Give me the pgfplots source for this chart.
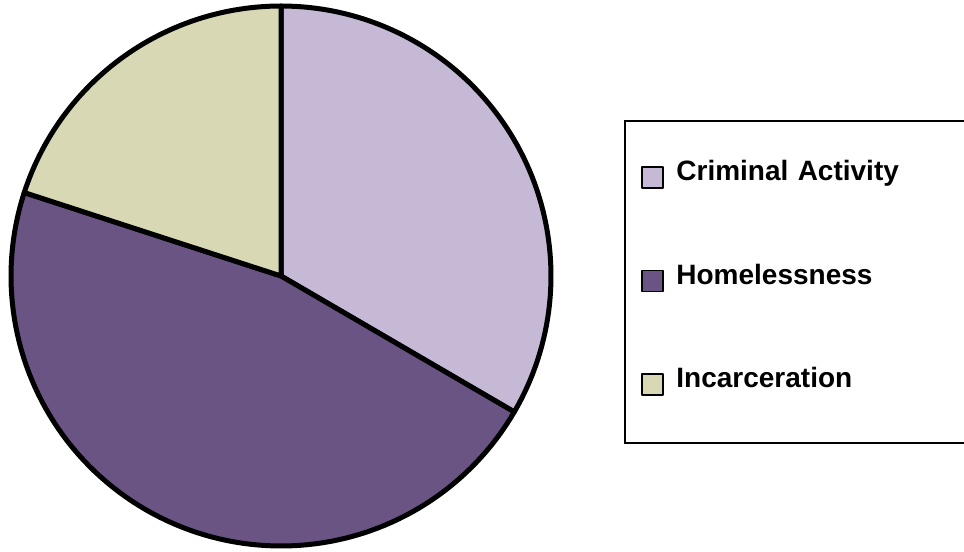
\documentclass[border=0pt]{standalone}
\usepackage{fontspec}
\setmainfont{Liberation Sans}
\usepackage{pgfplots}
\usepackage{pgfplotstable}
\pgfplotsset{compat=1.18}
\definecolor{crimcol}{HTML}{C6B9D6}
\definecolor{homecol}{HTML}{6A5484}
\definecolor{inccol}{HTML}{D8D9B4}
\pgfplotstableread{
label value
Criminal 33.4
Homeless 46.6
Incarc 20.0
}\piedata
\pgfplotstablegetelem{0}{value}\of\piedata\let\va\pgfplotsretval
\pgfplotstablegetelem{1}{value}\of\piedata\let\vb\pgfplotsretval
\pgfplotstablegetelem{2}{value}\of\piedata\let\vc\pgfplotsretval
\pgfmathsetmacro\aA{90}
\pgfmathsetmacro\aB{\aA-3.6*\va}
\pgfmathsetmacro\aC{\aB-3.6*\vb}
\pgfmathsetmacro\aD{\aC-3.6*\vc}
\begin{document}%
\begin{tikzpicture}
\begin{axis}[
  scale only axis, width=540bp, height=540bp,
  xmin=-1, xmax=1, ymin=-1, ymax=1,
  hide axis, clip=false,
  at={(11bp,6bp)}, anchor=south west,
  legend cell align=left,
  legend image code/.code={\draw[#1, line width=1.8bp] (0bp,-7bp) rectangle (21bp,14bp); \path (32bp,0bp);},
  legend style={
    at={(1.1352,0.7889)}, anchor=north west,
    draw=black, line width=2bp,
    inner xsep=16bp, inner ysep=40bp,
    row sep=68.5bp,
    cells={anchor=base west},
    nodes={inner sep=0pt, text height=20bp, text depth=15bp, text width=280bp, align=left,
           font=\fontsize{28bp}{32bp}\selectfont\bfseries},
  },
]
\addplot[fill=crimcol, draw=black, line width=5bp, line join=round, domain=\aA:\aB, samples=80, variable=\t]
  ({cos(t)},{sin(t)}) -- (axis cs:0,0) -- cycle;
\addlegendentry{Criminal Activity}
\addplot[fill=homecol, draw=black, line width=5bp, line join=round, domain=\aB:\aC, samples=100, variable=\t]
  ({cos(t)},{sin(t)}) -- (axis cs:0,0) -- cycle;
\addlegendentry{Homelessness}
\addplot[fill=inccol, draw=black, line width=5bp, line join=round, domain=\aC:\aD, samples=60, variable=\t]
  ({cos(t)},{sin(t)}) -- (axis cs:0,0) -- cycle;
\addlegendentry{Incarceration}
\end{axis}
\pgfresetboundingbox
\path[use as bounding box] (0,0) rectangle (964bp,552bp);
\end{tikzpicture}%
\end{document}
